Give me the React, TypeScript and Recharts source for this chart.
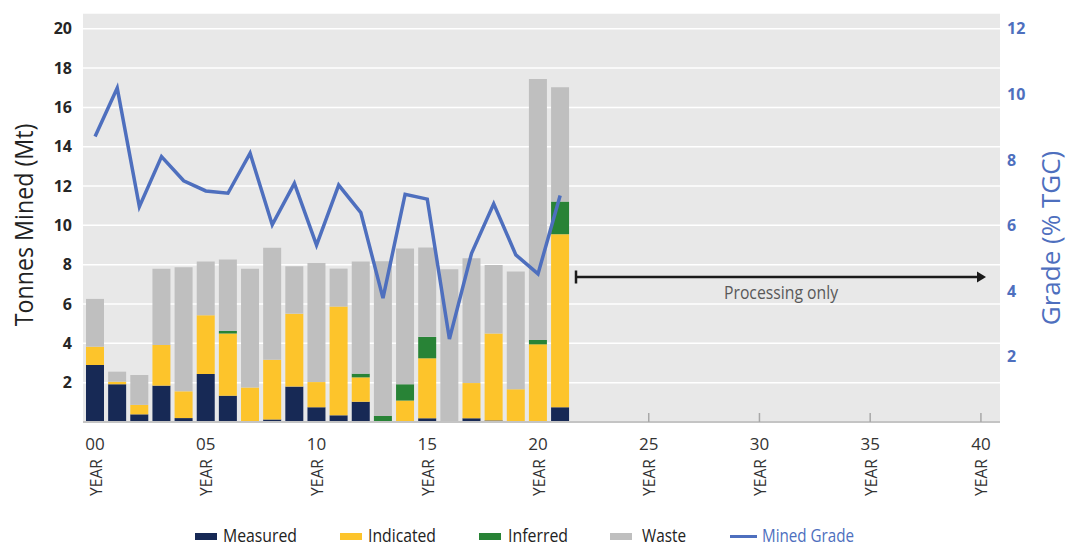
import React from "react";
import {
  ComposedChart,
  Bar,
  Line,
  XAxis,
  YAxis,
  CartesianGrid,
  Legend,
} from "recharts";

const years: string[] = Array.from({ length: 41 }, (_, i) => String(i).padStart(2, "0"));

const measured = [2.9, 1.92, 0.39, 1.85, 0.2, 2.44, 1.34, 0, 0.13, 1.8, 0.75, 0.34, 1.03, 0, 0, 0.19, 0, 0.19, 0.08, 0, 0.05, 0.75];
const indicated = [0.93, 0.13, 0.48, 2.07, 1.36, 2.99, 3.16, 1.75, 3.03, 3.71, 1.28, 5.53, 1.24, 0.04, 1.09, 3.05, 0.05, 1.79, 4.42, 1.66, 3.9, 8.8];
const inferred = [0, 0, 0, 0, 0, 0, 0.13, 0, 0, 0, 0, 0, 0.19, 0.27, 0.83, 1.09, 0, 0, 0, 0, 0.22, 1.66];
const waste = [2.43, 0.51, 1.52, 3.88, 6.31, 2.73, 3.63, 6.05, 5.7, 2.41, 6.06, 1.93, 5.7, 7.86, 6.9, 4.54, 7.72, 6.35, 3.49, 5.99, 13.27, 5.82];
const minedGrade = [8.71, 10.19, 6.57, 8.1, 7.36, 7.05, 6.98, 8.2, 6.02, 7.28, 5.4, 7.23, 6.39, 3.78, 6.95, 6.8, 2.53, 5.15, 6.66, 5.1, 4.52, 6.91];

const leftTicks = [2, 4, 6, 8, 10, 12, 14, 16, 18, 20];
const rightTicks = [2, 4, 6, 8, 10, 12];

const data = years.map((y, i) => ({
  year: y,
  measured: measured[i],
  indicated: indicated[i],
  inferred: inferred[i],
  waste: waste[i],
  grade: minedGrade[i],
}));

const FONT = "'Open Sans', sans-serif";
const BLUE = "#4e6fbe";
const C_MEAS = "#172955";
const C_IND = "#fdc42b";
const C_INF = "#288336";
const C_WASTE = "#bfbfbf";

const XTick = (props: any) => {
  const { x, y, payload } = props;
  const yr = Number(payload.value);
  if (yr % 5 !== 0) return null;
  return (
    <g>
      {yr > 21 && (
        <line x1={x} x2={x} y1={y - 9} y2={y} stroke="#a8a8a8" strokeWidth={1.5} />
      )}
      <text x={x} y={y + 28} textAnchor="middle" fontFamily={FONT} fontSize={17} fill="#333">
        {payload.value}
      </text>
      <text
        transform={`translate(${x + 6.5},${y + 55.5}) rotate(-90) scale(0.92,1)`}
        textAnchor="middle"
        fontFamily={FONT}
        fontSize={17}
        fill="#333"
      >
        YEAR
      </text>
    </g>
  );
};

const legendItems = [
  { label: "Measured", color: C_MEAS, mx: 195, tx: 223, tw: 74, type: "rect" },
  { label: "Indicated", color: C_IND, mx: 340, tx: 368, tw: 68, type: "rect" },
  { label: "Inferred", color: C_INF, mx: 479, tx: 508, tw: 60, type: "rect" },
  { label: "Waste", color: C_WASTE, mx: 610, tx: 642, tw: 44, type: "rect" },
  { label: "Mined Grade", color: BLUE, mx: 730, tx: 762, tw: 92, type: "line" },
];

const LegendContent = () => (
  <svg width={1068} height={34} style={{ display: "block" }}>
    {legendItems.map((it) => (
      <g key={it.label}>
        {it.type === "rect" ? (
          <rect x={it.mx} y={19} width={22} height={7} fill={it.color} />
        ) : (
          <rect x={it.mx} y={21} width={27} height={3} fill={it.color} />
        )}
        <text
          x={it.tx}
          y={28}
          fontFamily={FONT}
          fontSize={19}
          fill={it.type === "line" ? BLUE : "#222"}
          textLength={it.tw}
          lengthAdjust="spacingAndGlyphs"
        >
          {it.label}
        </text>
      </g>
    ))}
  </svg>
);

export default function App() {
  return (
    <div style={{ position: "absolute", left: 0, top: 0, width: 1068, height: 548, background: "#fff" }}>
      <ComposedChart
        width={1068}
        height={548}
        data={data}
        margin={{ top: 13, right: 0, bottom: 0, left: 0 }}
        barSize={18}
      >
        <CartesianGrid
          yAxisId="left"
          vertical={false}
          horizontal={true}
          stroke="#ffffff"
          strokeWidth={1.5}
          fill="#e8e8e8"
          fillOpacity={1}
        />
        <XAxis
          dataKey="year"
          interval={0}
          tick={<XTick />}
          tickLine={false}
          tickSize={0}
          tickMargin={0}
          axisLine={{ stroke: "#c4c4c4", strokeWidth: 2 }}
          height={126}
          padding={{ left: 1, right: 8 }}
        />
        <YAxis
          yAxisId="left"
          orientation="left"
          width={83}
          domain={[0, 20.8]}
          ticks={leftTicks}
          interval={0}
          axisLine={false}
          tickLine={false}
          tickSize={0}
          tickMargin={11}
          tick={{ fontFamily: FONT, fontWeight: 700, fontSize: 16, fill: "#262626" }}
          label={{
            content: () => (
              <text
                transform="translate(33,225) rotate(-90) scale(0.93,1)"
                textAnchor="middle"
                fontFamily={FONT}
                fontSize={25}
                fill="#222"
              >
                Tonnes Mined (Mt)
              </text>
            ),
          }}
        />
        <YAxis
          yAxisId="right"
          orientation="right"
          width={68}
          domain={[0, 12.48]}
          ticks={rightTicks}
          interval={0}
          axisLine={false}
          tickLine={false}
          tickSize={0}
          tickMargin={7}
          tick={{ fontFamily: FONT, fontWeight: 700, fontSize: 16, fill: BLUE }}
          label={{
            content: () => (
              <text
                transform="translate(1060,238) rotate(-90)"
                textAnchor="middle"
                fontFamily={FONT}
                fontSize={26}
                fill={BLUE}
              >
                Grade (% TGC)
              </text>
            ),
          }}
        />
        <Bar yAxisId="left" dataKey="measured" name="Measured" stackId="a" fill={C_MEAS} isAnimationActive={false} />
        <Bar yAxisId="left" dataKey="indicated" name="Indicated" stackId="a" fill={C_IND} isAnimationActive={false} />
        <Bar yAxisId="left" dataKey="inferred" name="Inferred" stackId="a" fill={C_INF} isAnimationActive={false} />
        <Bar yAxisId="left" dataKey="waste" name="Waste" stackId="a" fill={C_WASTE} isAnimationActive={false} />
        <Line
          yAxisId="right"
          dataKey="grade"
          name="Mined Grade"
          stroke={BLUE}
          strokeWidth={3.5}
          dot={false}
          activeDot={false}
          type="linear"
          isAnimationActive={false}
        />
        <Legend
          layout="horizontal"
          verticalAlign="middle"
          align="center"
          content={<LegendContent />}
          wrapperStyle={{ position: "absolute", top: 514, left: 0, width: 1068, height: 34 }}
        />
      </ComposedChart>
      <svg
        width={1068}
        height={548}
        style={{ position: "absolute", left: 0, top: 0, pointerEvents: "none" }}
      >
        <line x1={576} x2={979} y1={277} y2={277} stroke="#1a1a1a" strokeWidth={2.5} />
        <line x1={576} x2={576} y1={270.5} y2={283.5} stroke="#1a1a1a" strokeWidth={2.5} />
        <polygon points="986,277 977,271.5 977,282.5" fill="#1a1a1a" />
        <text
          transform="translate(781,299) scale(0.83,1)"
          textAnchor="middle"
          fontFamily={FONT}
          fontSize={19}
          fill="#595959"
        >
          Processing only
        </text>
      </svg>
    </div>
  );
}
